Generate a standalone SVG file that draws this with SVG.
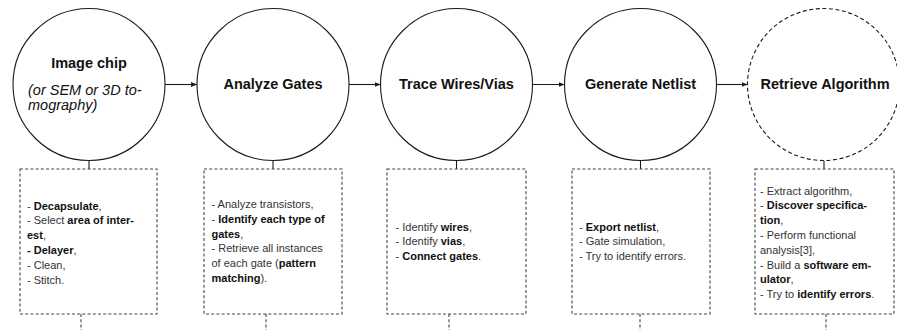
<svg xmlns="http://www.w3.org/2000/svg" width="897" height="330" viewBox="0 0 897 330">
  <style>
    .stage { fill: #ffffff; stroke: #1a1a1a; stroke-width: 1.1; }
    .stage.open { stroke-dasharray: 4 2.6; }
    .title { font-family: "Liberation Sans", Arial, sans-serif; font-weight: bold; font-size: 14.5px; fill: #111; text-anchor: middle; }
    .sub { font-family: "Liberation Sans", Arial, sans-serif; font-style: italic; font-size: 14.5px; fill: #111; }
    .box { fill: none; stroke: #444; stroke-width: 1.1; stroke-dasharray: 3 2.2; }
    .steps { font-family: "Liberation Sans", Arial, sans-serif; font-size: 11px; fill: #333; }
    .steps .b { font-weight: bold; fill: #111; }
    .flow { fill: none; stroke: #1a1a1a; stroke-width: 1.1; }
    .tail { fill: none; stroke: #444; stroke-width: 1.1; stroke-dasharray: 3 2.2; }
  </style>
  <defs>
    <marker id="tip" viewBox="0 0 6 6" refX="6" refY="3" markerWidth="6" markerHeight="6" markerUnits="userSpaceOnUse" orient="auto">
      <path d="M0,0.6 L6,3 L0,5.4 Z" fill="#1a1a1a"/>
    </marker>
  </defs>

  <!-- connectors -->
  <g id="connectors">
    <line class="flow" x1="165" y1="84.5" x2="197" y2="84.5" marker-end="url(#tip)"/>
    <line class="flow" x1="349" y1="84.5" x2="380.5" y2="84.5" marker-end="url(#tip)"/>
    <line class="flow" x1="532.5" y1="84.5" x2="564.5" y2="84.5" marker-end="url(#tip)"/>
    <line class="flow" x1="716.5" y1="84.5" x2="747.5" y2="84.5" marker-end="url(#tip)"/>
    <line class="flow" x1="89" y1="160.5" x2="89" y2="169"/>
    <line class="flow" x1="273" y1="160.5" x2="273" y2="169"/>
    <line class="flow" x1="456.5" y1="160.5" x2="456.5" y2="169"/>
    <line class="flow" x1="640.5" y1="160.5" x2="640.5" y2="169"/>
    <line class="flow" x1="824" y1="160.5" x2="824" y2="169"/>
    <line class="tail" x1="81" y1="314" x2="81" y2="330"/>
    <line class="tail" x1="266" y1="314" x2="266" y2="330"/>
    <line class="tail" x1="449" y1="314" x2="449" y2="330"/>
    <line class="tail" x1="640" y1="314" x2="640" y2="330"/>
    <line class="tail" x1="826" y1="314" x2="826" y2="330"/>
  </g>

  <!-- stage 1 -->
  <g id="image-chip">
    <circle class="stage" cx="89" cy="84.5" r="76"/>
    <text class="title" x="89" y="67.5">Image chip</text>
    <text class="sub" x="28" y="94.5">(or SEM or 3D to-</text>
    <text class="sub" x="28" y="109.5">mography)</text>
  </g>
  <g id="image-chip-steps">
    <rect class="box" x="20" y="169" width="137" height="145"/>
    <text class="steps">
      <tspan x="27" y="209.5">- <tspan class="b">Decapsulate</tspan>,</tspan>
      <tspan x="27" y="224.3">- Select <tspan class="b">area of inter-</tspan></tspan>
      <tspan x="27" y="239.1"><tspan class="b">est</tspan>,</tspan>
      <tspan x="27" y="253.9" class="b">- Delayer<tspan class="r" style="font-weight:normal;fill:#333">,</tspan></tspan>
      <tspan x="27" y="268.7">- Clean,</tspan>
      <tspan x="27" y="283.5">- Stitch.</tspan>
    </text>
  </g>

  <!-- stage 2 -->
  <g id="analyze-gates">
    <circle class="stage" cx="273" cy="84.5" r="76"/>
    <text class="title" x="273" y="89">Analyze Gates</text>
  </g>
  <g id="analyze-gates-steps">
    <rect class="box" x="204" y="169" width="138" height="145"/>
    <text class="steps">
      <tspan x="211.5" y="208">- Analyze transistors,</tspan>
      <tspan x="211.5" y="222.8">- <tspan class="b">Identify each type of</tspan></tspan>
      <tspan x="211.5" y="237.6"><tspan class="b">gates</tspan>,</tspan>
      <tspan x="211.5" y="252.4">- Retrieve all instances</tspan>
      <tspan x="211.5" y="267.2">of each gate (<tspan class="b">pattern</tspan></tspan>
      <tspan x="211.5" y="282"><tspan class="b">matching</tspan>).</tspan>
    </text>
  </g>

  <!-- stage 3 -->
  <g id="trace-wires">
    <circle class="stage" cx="456.5" cy="84.5" r="76"/>
    <text class="title" x="456.5" y="89">Trace Wires/Vias</text>
  </g>
  <g id="trace-wires-steps">
    <rect class="box" x="387" y="169" width="139" height="145"/>
    <text class="steps">
      <tspan x="395.5" y="230.5">- Identify <tspan class="b">wires</tspan>,</tspan>
      <tspan x="395.5" y="245.3">- Identify <tspan class="b">vias</tspan>,</tspan>
      <tspan x="395.5" y="260.1">- <tspan class="b">Connect gates</tspan>.</tspan>
    </text>
  </g>

  <!-- stage 4 -->
  <g id="generate-netlist">
    <circle class="stage" cx="640.5" cy="84.5" r="76"/>
    <text class="title" x="640.5" y="89">Generate Netlist</text>
  </g>
  <g id="generate-netlist-steps">
    <rect class="box" x="572" y="169" width="138" height="145"/>
    <text class="steps">
      <tspan x="579" y="230.5">- <tspan class="b">Export netlist</tspan>,</tspan>
      <tspan x="579" y="245.3">- Gate simulation,</tspan>
      <tspan x="579" y="260.1">- Try to identify errors.</tspan>
    </text>
  </g>

  <!-- stage 5 -->
  <g id="retrieve-algorithm">
    <circle class="stage open" cx="823.5" cy="84.5" r="76"/>
    <text class="title" x="825" y="89">Retrieve Algorithm</text>
  </g>
  <g id="retrieve-algorithm-steps">
    <rect class="box" x="755" y="169" width="139" height="145"/>
    <text class="steps">
      <tspan x="760" y="194.5">- Extract algorithm,</tspan>
      <tspan x="760" y="209.3">- <tspan class="b">Discover specifica-</tspan></tspan>
      <tspan x="760" y="224.1"><tspan class="b">tion</tspan>,</tspan>
      <tspan x="760" y="238.9">- Perform functional</tspan>
      <tspan x="760" y="253.7">analysis[3],</tspan>
      <tspan x="760" y="268.5">- Build a <tspan class="b">software em-</tspan></tspan>
      <tspan x="760" y="283.3"><tspan class="b">ulator</tspan>,</tspan>
      <tspan x="760" y="298.1">- Try to <tspan class="b">identify errors</tspan>.</tspan>
    </text>
  </g>
</svg>
